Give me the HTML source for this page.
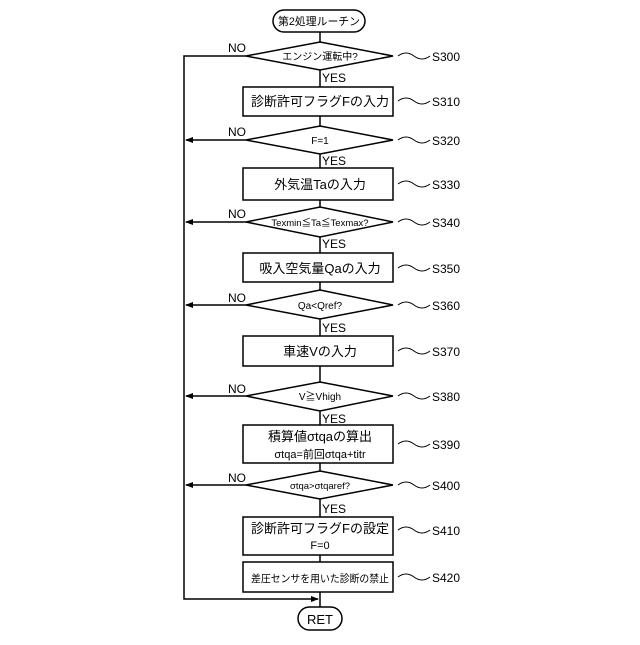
<!DOCTYPE html>
<html><head><meta charset="utf-8"><style>
body{margin:0;background:#fff}
svg text{font-family:"Liberation Sans","Noto Sans CJK JP",sans-serif;fill:#000}
</style></head><body>
<svg width="640" height="640" viewBox="0 0 640 640" xmlns="http://www.w3.org/2000/svg">
<defs><marker id="a" markerWidth="8" markerHeight="8" refX="7" refY="4" orient="auto" markerUnits="userSpaceOnUse"><path d="M0,1 L8,4 L0,7 Z" fill="#000"/></marker></defs>
<g stroke="#000" stroke-width="1.5" fill="none">
<rect x="273" y="10" width="92" height="22" rx="11" fill="#fff"/>
<line x1="320" y1="32" x2="320" y2="608"/>
<polyline points="246,56 184,56 184,599 318,599" marker-end="url(#a)"/>
<line x1="246" y1="140" x2="186" y2="140" marker-end="url(#a)"/>
<line x1="246" y1="222" x2="186" y2="222" marker-end="url(#a)"/>
<line x1="246" y1="305" x2="186" y2="305" marker-end="url(#a)"/>
<line x1="246" y1="396" x2="186" y2="396" marker-end="url(#a)"/>
<line x1="246" y1="485" x2="186" y2="485" marker-end="url(#a)"/>
<g fill="#fff">
<polygon points="320,42 393,56 320,70 246,56"/>
<rect x="243" y="87" width="150" height="29"/>
<polygon points="320,126 393,140 320,154 246,140"/>
<rect x="243" y="168" width="150" height="32"/>
<polygon points="320,207 393,222 320,237 246,222"/>
<rect x="243" y="253" width="150" height="29"/>
<polygon points="320,290 393,305 320,319 246,305"/>
<rect x="243" y="336" width="150" height="30"/>
<polygon points="320,382 393,396 320,411 246,396"/>
<rect x="243" y="425" width="150" height="38"/>
<polygon points="320,471 393,485 320,499 246,485"/>
<rect x="243" y="517" width="150" height="38"/>
<rect x="243" y="562" width="150" height="30"/>
<rect x="298" y="607" width="44" height="23" rx="11.5"/>
</g>
<g stroke-width="1">
<path d="M398,56 q8,-6 16,0 t16,0"/>
<path d="M398,101 q8,-6 16,0 t16,0"/>
<path d="M398,140 q8,-6 16,0 t16,0"/>
<path d="M398,184 q8,-6 16,0 t16,0"/>
<path d="M398,222 q8,-6 16,0 t16,0"/>
<path d="M398,268 q8,-6 16,0 t16,0"/>
<path d="M398,305 q8,-6 16,0 t16,0"/>
<path d="M398,351 q8,-6 16,0 t16,0"/>
<path d="M398,396 q8,-6 16,0 t16,0"/>
<path d="M398,444 q8,-6 16,0 t16,0"/>
<path d="M398,485 q8,-6 16,0 t16,0"/>
<path d="M398,530 q8,-6 16,0 t16,0"/>
<path d="M398,577 q8,-6 16,0 t16,0"/>
</g>
</g>
<g font-size="12" text-anchor="middle">
<text x="319" y="25" font-size="11" textLength="82" lengthAdjust="spacingAndGlyphs">第2処理ルーチン</text>
<text x="320" y="60" font-size="10">エンジン運転中?</text>
<text x="320" y="106" font-size="13">診断許可フラグFの入力</text>
<text x="320" y="144" font-size="10">F=1</text>
<text x="320" y="189" font-size="13">外気温Taの入力</text>
<text x="320" y="226" font-size="9.5">Texmin≦Ta≦Texmax?</text>
<text x="320" y="273" font-size="13">吸入空気量Qaの入力</text>
<text x="320" y="309" font-size="10">Qa&lt;Qref?</text>
<text x="320" y="356" font-size="13">車速Vの入力</text>
<text x="320" y="400" font-size="10">V≧Vhigh</text>
<text x="320" y="441" font-size="13">積算値σtqaの算出</text>
<text x="320" y="458" font-size="11">σtqa=前回σtqa+titr</text>
<text x="320" y="489" font-size="9.5">σtqa&gt;σtqaref?</text>
<text x="320" y="533" font-size="13">診断許可フラグFの設定</text>
<text x="320" y="549" font-size="11">F=0</text>
<text x="320" y="582" font-size="10.5" textLength="138" lengthAdjust="spacingAndGlyphs">差圧センサを用いた診断の禁止</text>
<text x="320" y="624" font-size="13">RET</text>
</g>
<g font-size="12">
<text x="322" y="82">YES</text><text x="322" y="165">YES</text><text x="322" y="248">YES</text>
<text x="322" y="332">YES</text><text x="322" y="423">YES</text><text x="322" y="513">YES</text>
<text x="228" y="52">NO</text><text x="228" y="136">NO</text><text x="228" y="218">NO</text>
<text x="228" y="302">NO</text><text x="228" y="393">NO</text><text x="228" y="482">NO</text>
<text x="432" y="61">S300</text><text x="432" y="106">S310</text><text x="432" y="145">S320</text>
<text x="432" y="189">S330</text><text x="432" y="227">S340</text><text x="432" y="273">S350</text>
<text x="432" y="310">S360</text><text x="432" y="356">S370</text><text x="432" y="401">S380</text>
<text x="432" y="449">S390</text><text x="432" y="490">S400</text><text x="432" y="535">S410</text>
<text x="432" y="582">S420</text>
</g>
</svg>
</body></html>
